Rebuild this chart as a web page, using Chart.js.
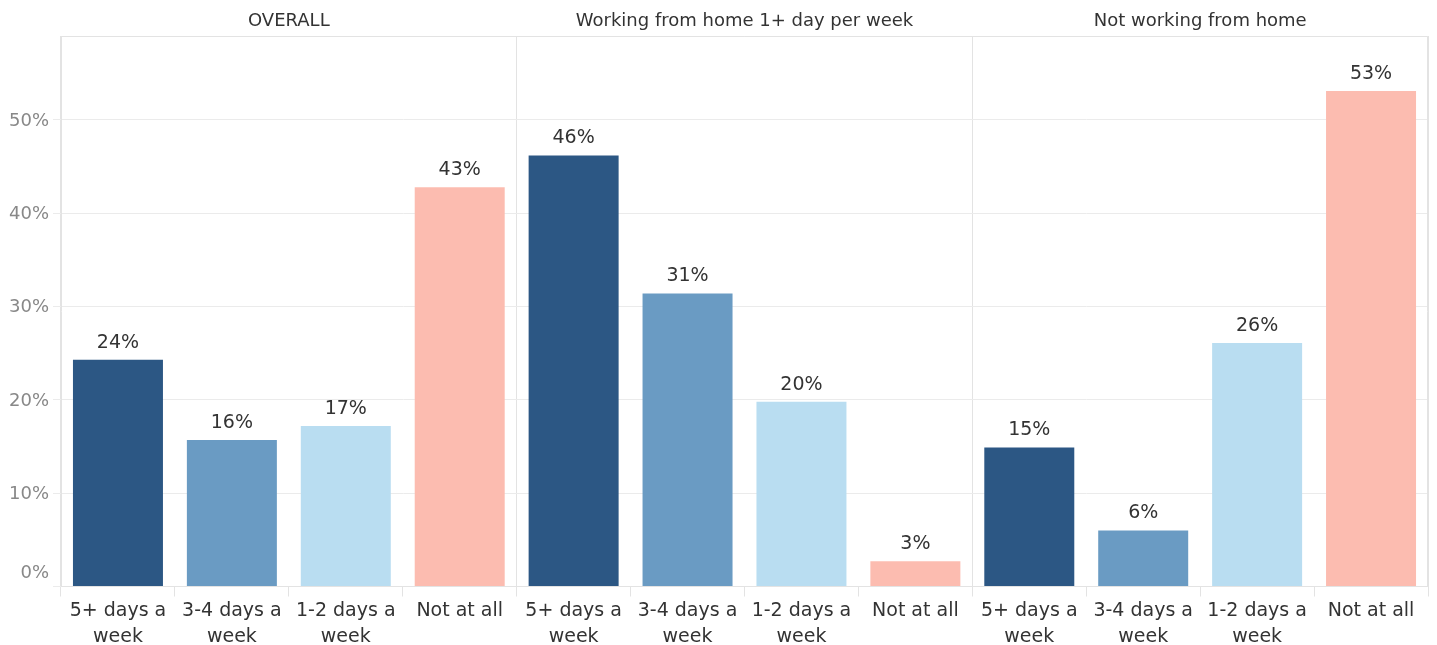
<!DOCTYPE html>
<html>
<head>
<meta charset="utf-8">
<script src="https://cdn.jsdelivr.net/npm/chart.js@4/dist/chart.umd.min.js"></script>
<style>
  html, body { margin: 0; padding: 0; background: #ffffff; }
  #wrap { width: 1437px; height: 645px; }
</style>
</head>
<body>
<div id="wrap"><canvas id="c" width="1437" height="645"></canvas></div>
<script>
// ---- data ----
const panels = ["OVERALL", "Working from home 1+ day per week", "Not working from home"];
const frequencies = [["5+ days a", "week"], ["3-4 days a", "week"], ["1-2 days a", "week"], "Not at all"];
const overallValues = [24.3, 15.7, 17.2, 42.8];
const wfhValues = [46.2, 31.4, 19.8, 2.7];
const notWfhValues = [14.9, 6.0, 26.1, 53.1];
const yTicks = [0, 10, 20, 30, 40, 50];
const barColors = ["#2c5784", "#6a9bc3", "#b9ddf1", "#fcbcb0"];

// build chart inputs from the arrays
const labels = [];
const values = [];
const colors = [];
[overallValues, wfhValues, notWfhValues].forEach(function (arr) {
  arr.forEach(function (v, i) {
    labels.push(frequencies[i]);
    values.push(v);
    colors.push(barColors[i]);
  });
});

const FONT = "'DejaVu Sans', 'Noto Sans', sans-serif";
const GRID = "#ebebeb";
const BORDER = "#e3e3e3";

const decorPlugin = {
  id: "decor",
  afterDraw(chart) {
    const ctx = chart.ctx;
    const area = chart.chartArea;
    const x = chart.scales.x;
    const y = chart.scales.y;
    ctx.save();
    // frame
    ctx.strokeStyle = BORDER;
    ctx.lineWidth = 1;
    ctx.beginPath();
    ctx.moveTo(area.left + 0.5, area.top + 0.5);
    ctx.lineTo(area.right - 0.5, area.top + 0.5);
    ctx.lineTo(area.right - 0.5, area.bottom);
    ctx.stroke();
    // panel titles
    ctx.fillStyle = "#333333";
    ctx.font = "18px " + FONT;
    ctx.textAlign = "center";
    ctx.textBaseline = "middle";
    const half = (x.getPixelForValue(1) - x.getPixelForValue(0)) / 2;
    panels.forEach(function (t, p) {
      const l = x.getPixelForValue(p * 4) - half;
      const r = x.getPixelForValue(p * 4 + 3) + half;
      ctx.fillText(t, (l + r) / 2, 21);
    });
    // y tick labels (Tableau style: 0% lifted above the baseline)
    ctx.fillStyle = "#888888";
    ctx.textAlign = "right";
    ctx.font = "18px " + FONT;
    yTicks.forEach(function (v) {
      let py = y.getPixelForValue(v) + 1;
      if (v === 0) py -= 14;
      ctx.fillText(v + "%", area.left - 12, py);
    });
    // value labels
    ctx.fillStyle = "#333333";
    ctx.textAlign = "center";
    ctx.font = "19px " + FONT;
    chart.getDatasetMeta(0).data.forEach(function (bar, i) {
      ctx.fillText(Math.round(values[i]) + "%", bar.x, bar.y - 17);
    });
    ctx.restore();
  }
};

new Chart(document.getElementById("c"), {
  type: "bar",
  data: {
    labels: labels,
    datasets: [{
      data: values,
      backgroundColor: colors,
      borderWidth: 0,
      barPercentage: 0.79,
      categoryPercentage: 1.0
    }]
  },
  options: {
    responsive: false,
    animation: false,
    layout: { padding: { top: 36, right: 9, left: 0, bottom: 0 } },
    plugins: { legend: { display: false }, tooltip: { enabled: false } },
    scales: {
      x: {
        offset: true,
        grid: {
          offset: true,
          color: function (c) {
            if (c.index === undefined || c.index % 4 === 0) return BORDER;
            return "transparent";
          },
          tickColor: BORDER,
          tickLength: 10,
          drawOnChartArea: true
        },
        border: { color: BORDER },
        ticks: {
          color: "#333333",
          font: { family: FONT, size: 19, lineHeight: 1.37 },
          maxRotation: 0,
          autoSkip: false,
          padding: 2
        },
        afterFit: function (s) { s.height = 58.5; }
      },
      y: {
        min: 0,
        max: 59,
        ticks: {
          stepSize: 10,
          color: "transparent",
          font: { family: FONT, size: 18 }
        },
        grid: {
          color: GRID,
          tickColor: function (c) {
            return (c.tick && c.tick.value % 10 === 0) ? GRID : "transparent";
          },
          tickLength: 8
        },
        border: { color: BORDER },
        afterFit: function (s) { s.width = 61; }
      }
    }
  },
  plugins: [decorPlugin]
});
</script>
</body>
</html>
